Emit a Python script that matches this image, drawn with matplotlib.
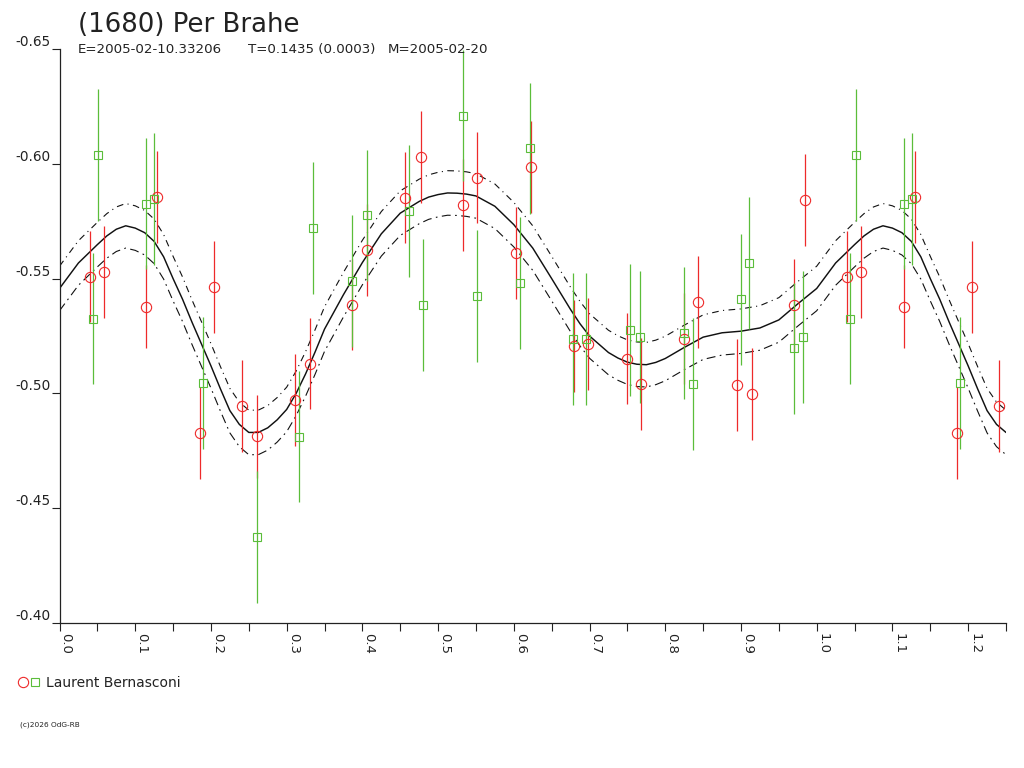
#!/usr/bin/env python
"""
Light curve of (1680) Per Brahe, phase folded, with the Fourier fit
"""
import numpy as np
import matplotlib
matplotlib.use('Agg')
import matplotlib.pyplot as plt
from matplotlib.lines import Line2D
from matplotlib.legend_handler import HandlerTuple
from matplotlib.ticker import FixedLocator, FuncFormatter

# observer 1, red circles (phase, reduced magnitude, error)
red_phase = [0.0399, 0.0588, 0.1147, 0.1292, 0.1852, 0.2045, 0.2407, 0.2605,
             0.3111, 0.3313, 0.3864, 0.4062, 0.4568, 0.4772, 0.5326, 0.5519,
             0.6026, 0.6229, 0.6793, 0.6978, 0.7493, 0.7686, 0.8250, 0.8435,
             0.8954, 0.9139, 0.9703, 0.9848]
red_mag = [-0.5509, -0.5530, -0.5378, -0.5857, -0.4826, -0.5464, -0.4945, -0.4813,
           -0.4970, -0.5130, -0.5387, -0.5625, -0.5853, -0.6030, -0.5820, -0.5940,
           -0.5610, -0.5987, -0.5206, -0.5216, -0.5152, -0.5042, -0.5239, -0.5399,
           -0.5036, -0.4996, -0.5384, -0.5842]
red_err = [0.020, 0.020, 0.018, 0.020, 0.020, 0.020, 0.020, 0.018,
           0.020, 0.020, 0.020, 0.020, 0.020, 0.020, 0.020, 0.020,
           0.020, 0.020, 0.020, 0.020, 0.020, 0.020, 0.020, 0.020,
           0.020, 0.020, 0.020, 0.020]

# second session, green squares
green_phase = [0.0439, 0.0513, 0.1147, 0.1252, 0.1892, 0.2609, 0.3164, 0.3353,
               0.3868, 0.4062, 0.4621, 0.4806, 0.5330, 0.5511, 0.6083, 0.6215,
               0.6787, 0.6959, 0.7540, 0.7664, 0.8246, 0.8369, 0.8999, 0.9112,
               0.9703, 0.9822]
green_mag = [-0.5326, -0.6040, -0.5827, -0.5848, -0.5047, -0.4375, -0.4812, -0.5719,
             -0.5488, -0.5775, -0.5794, -0.5384, -0.6210, -0.5423, -0.5480, -0.6067,
             -0.5236, -0.5236, -0.5275, -0.5245, -0.5262, -0.5040, -0.5409, -0.5567,
             -0.5196, -0.5245]
green_err = [0.0287] * len(green_phase)

# fitted curve, one period
fit_phase = [0.000, 0.025, 0.050, 0.0625, 0.075, 0.0875, 0.100, 0.1125, 0.125,
             0.1375, 0.150, 0.1625, 0.175, 0.1875, 0.200, 0.2125, 0.225, 0.2375,
             0.250, 0.2625, 0.275, 0.2875, 0.300, 0.3125, 0.325, 0.3375, 0.350,
             0.375, 0.400, 0.425, 0.450, 0.475, 0.4875, 0.500, 0.5125, 0.525,
             0.5375, 0.550, 0.575, 0.600, 0.625, 0.650, 0.675, 0.6875, 0.700,
             0.725, 0.7375, 0.750, 0.7625, 0.775, 0.7875, 0.800, 0.825, 0.850,
             0.875, 0.900, 0.925, 0.950, 0.975, 1.000]
fit_mag = [-0.5457, -0.5568, -0.5648, -0.5686, -0.5715, -0.5730, -0.5720, -0.5700,
           -0.5662, -0.5595, -0.5500, -0.5410, -0.5310, -0.5215, -0.5120, -0.5020,
           -0.4925, -0.4865, -0.4830, -0.4830, -0.4850, -0.4885, -0.4930, -0.5000,
           -0.5085, -0.5180, -0.5280, -0.5430, -0.5570, -0.5695, -0.5785, -0.5836,
           -0.5855, -0.5866, -0.5873, -0.5872, -0.5868, -0.5860, -0.5815, -0.5735,
           -0.5633, -0.5500, -0.5365, -0.5303, -0.5250, -0.5178, -0.5154, -0.5136,
           -0.5127, -0.5125, -0.5135, -0.5152, -0.5200, -0.5245, -0.5264, -0.5271,
           -0.5285, -0.5320, -0.5390, -0.5457]
fit_sigma = 0.0097

x_ticks = np.round(np.arange(0, 1.2501, 0.05), 2)
y_ticks = [-0.65, -0.60, -0.55, -0.50, -0.45, -0.40]

title = '(1680) Per Brahe'
info = ['E=2005-02-10.33206', 'T=0.1435 (0.0003)', 'M=2005-02-20']
observer = 'Laurent Bernasconi'

RED = '#ee2a2a'
GREEN = '#5bbd3a'
INK = '#222222'


def wrap(phase, values, *more, lo=0.0, hi=0.25):
    """repeat the first quarter of the period after phase 1.0"""
    phase = np.asarray(phase)
    extra = (phase > lo) & (phase < hi)
    out = [np.concatenate([phase, phase[extra] + 1.0])]
    for v in (values,) + more:
        v = np.asarray(v)
        out.append(np.concatenate([v, v[extra]]))
    return out


def main():
    plt.rcParams['font.family'] = ['DejaVu Sans']

    fig = plt.figure(figsize=(10.24, 7.68), dpi=100)
    ax = fig.add_axes([59.5 / 1024, 1 - 623 / 768, (1006 - 59.5) / 1024, (623 - 49) / 768])

    # fit and its envelope
    fp, fm = wrap(fit_phase, fit_mag, lo=0.0, hi=0.27)
    ax.plot(fp, fm, color='#111111', lw=1.05, zorder=2)
    ax.plot(fp, fm - fit_sigma, color='#111111', lw=0.8,
            dashes=(6, 4, 1, 4), zorder=2)
    ax.plot(fp, fm + fit_sigma, color='#111111', lw=0.8,
            dashes=(8, 4, 1.5, 4), zorder=2)

    # observations
    rp, rm, re = wrap(red_phase, red_mag, red_err, lo=-1)
    gp, gm, ge = wrap(green_phase, green_mag, green_err, lo=-1)
    ax.errorbar(rp, rm, yerr=re, fmt='o', ms=7.4, mfc='none', mec=RED, mew=0.8,
                ecolor=RED, elinewidth=0.9, capsize=0, zorder=3)
    ax.errorbar(gp, gm, yerr=ge, fmt='s', ms=5.2, mfc='none', mec=GREEN, mew=0.8,
                ecolor=GREEN, elinewidth=0.9, capsize=0, zorder=3)

    ax.set_xlim(0, 1.25)
    ax.set_ylim(-0.40, -0.65)

    ax.spines['top'].set_visible(False)
    ax.spines['right'].set_visible(False)
    for s in ('left', 'bottom'):
        ax.spines[s].set_color(INK)
        ax.spines[s].set_linewidth(0.9)

    ax.xaxis.set_major_locator(FixedLocator(x_ticks))
    ax.xaxis.set_major_formatter(FuncFormatter(
        lambda v, pos: ('%.1f' % v) if abs(v * 10 - round(v * 10)) < 1e-6 and v < 1.225 else ''))
    ax.yaxis.set_major_locator(FixedLocator(y_ticks))
    ax.yaxis.set_major_formatter(FuncFormatter(lambda v, pos: '%.2f' % v))
    ax.tick_params(direction='out', length=6, width=0.8, color=INK,
                   labelcolor=INK, labelsize=9.5)
    ax.tick_params(axis='y', pad=0.5, labelsize=9.8)
    ax.tick_params(axis='x', pad=1.5)

    for lab in ax.get_xticklabels():
        lab.set_rotation(270)
        lab.set_horizontalalignment('left')
        lab.set_verticalalignment('top')
    for lab in ax.get_yticklabels():
        lab.set_verticalalignment('bottom')

    # header
    fig.text(78 / 1024, 1 - 32 / 768, title, fontsize=18.7, color=INK, va='baseline')
    for x, t in zip([78, 248, 388], info):
        fig.text(x / 1024, 1 - 53 / 768, t, fontsize=9.6, color=INK, va='baseline')

    # legend
    h_red = Line2D([], [], marker='o', ls='none', ms=7.4, mfc='none', mec=RED, mew=0.8)
    h_green = Line2D([], [], marker='s', ls='none', ms=5.2, mfc='none', mec=GREEN, mew=0.8)
    fig.legend(handles=[(h_red, h_green)], labels=[observer],
               handler_map={tuple: HandlerTuple(ndivide=None, pad=0)},
               loc='center left', bbox_to_anchor=(17 / 1024, 1 - 683 / 768),
               frameon=False, fontsize=10, handlelength=1.7, handletextpad=0.4,
               borderpad=0, borderaxespad=0, labelcolor=INK)

    fig.text(20 / 1024, 1 - 725 / 768, '(c)2026 OdG-RB', fontsize=5.3,
             color=INK, va='center')

    fig.savefig('out.png', dpi=100)


if __name__ == '__main__':
    main()
